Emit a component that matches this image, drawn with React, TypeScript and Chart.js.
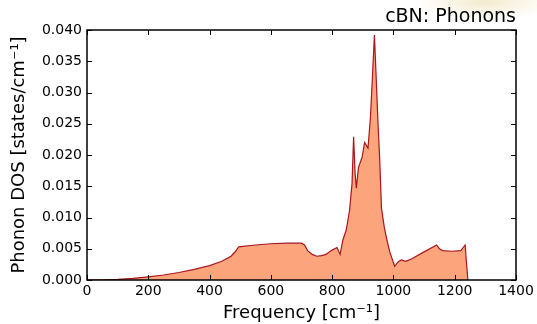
import React, { useEffect, useRef } from 'react';
import { Chart, registerables } from 'chart.js';

Chart.register(...registerables);

const frequencies = [
  0, 50, 100, 150, 200, 250, 300, 350, 400, 440, 470, 485, 495, 550, 600, 650, 700, 710, 720, 735,
  750, 765, 780, 797, 816, 826, 835, 846, 857, 865, 870, 875, 879, 886, 898, 906, 912, 917, 925, 932,
  938, 944, 950, 955, 961, 970, 977, 988, 1004, 1015, 1026, 1040, 1060, 1100, 1141, 1150, 1160, 1190,
  1220, 1234, 1238, 1243,
];
const dos = [
  0, 0.00003, 0.0001, 0.00025, 0.0005, 0.0008, 0.0012, 0.0017, 0.0023, 0.003, 0.0038, 0.0046, 0.0053,
  0.0056, 0.0058, 0.0059, 0.0059, 0.0056, 0.0047, 0.0041, 0.0038, 0.0039, 0.0041, 0.0047, 0.0052,
  0.0041, 0.0064, 0.008, 0.0112, 0.0155, 0.0229, 0.017, 0.0147, 0.018, 0.0197, 0.022, 0.0215, 0.0211,
  0.026, 0.033, 0.0392, 0.032, 0.0248, 0.0195, 0.0115, 0.0085, 0.0068, 0.0045, 0.0022, 0.0029, 0.0032,
  0.003, 0.0034, 0.0045, 0.0056, 0.005, 0.0047, 0.0046, 0.0047, 0.0056, 0.003, 0,
];
const xTickValues = [0, 200, 400, 600, 800, 1000, 1200, 1400];
const yTickValues = [0, 0.005, 0.01, 0.015, 0.02, 0.025, 0.03, 0.035, 0.04];
const titleText = 'cBN: Phonons';
const xLabel = 'Frequency [cm\u207B\u00B9]';
const yLabel = 'Phonon DOS [states/cm\u207B\u00B9]';

const FONT = '"DejaVu Sans", sans-serif';

const framePlugin = {
  id: 'frame',
  afterDraw(chart: any) {
    const { ctx, chartArea: a, scales } = chart;
    ctx.save();
    ctx.strokeStyle = '#000';
    ctx.lineWidth = 1;
    const L = 5;
    const seg = (x1: number, y1: number, x2: number, y2: number) => {
      ctx.beginPath();
      ctx.moveTo(x1, y1);
      ctx.lineTo(x2, y2);
      ctx.stroke();
    };
    xTickValues.forEach((v) => {
      const px = Math.round(scales.x.getPixelForValue(v)) + 0.5;
      seg(px, a.bottom, px, a.bottom - L);
      seg(px, a.top, px, a.top + L);
    });
    yTickValues.forEach((v) => {
      const py = Math.round(scales.y.getPixelForValue(v)) + 0.5;
      seg(a.left, py, a.left + L, py);
      seg(a.right, py, a.right - L, py);
    });
    ctx.lineWidth = 1.5;
    ctx.strokeRect(a.left, a.top, a.right - a.left, a.bottom - a.top);
    ctx.fillStyle = '#000';
    ctx.font = `19px ${FONT}`;
    ctx.textAlign = 'right';
    ctx.textBaseline = 'alphabetic';
    ctx.fillText(titleText, a.right, a.top - 8);
    ctx.restore();
  },
};

export default function App() {
  const ref = useRef<HTMLCanvasElement | null>(null);
  useEffect(() => {
    if (!ref.current) return;
    const chart = new Chart(ref.current, {
      type: 'line',
      data: {
        datasets: [
          {
            data: frequencies.map((f, i) => ({ x: f, y: dos[i] })),
            borderColor: '#a8161e',
            backgroundColor: '#fca47c',
            borderWidth: 1.2,
            fill: 'origin',
            pointRadius: 0,
            tension: 0,
          },
        ],
      },
      options: {
        animation: false,
        responsive: false,
        layout: { padding: { top: 30, right: 21, left: 0, bottom: 0 } },
        plugins: { legend: { display: false }, tooltip: { enabled: false } },
        scales: {
          x: {
            type: 'linear',
            min: 0,
            max: 1400,
            afterBuildTicks: (s: any) => {
              s.ticks = xTickValues.map((v) => ({ value: v }));
            },
            afterFit: (s: any) => {
              s.height = 44;
            },
            ticks: {
              color: '#000',
              font: { family: FONT, size: 14 },
              padding: 3,
              maxRotation: 0,
              callback: (v: any) => String(v),
            },
            grid: { display: false, drawTicks: false },
            border: { display: false },
            title: {
              display: true,
              text: xLabel,
              color: '#000',
              font: { family: FONT, size: 18 },
              padding: { top: 0, bottom: 0 },
            },
          },
          y: {
            type: 'linear',
            min: 0,
            max: 0.04,
            afterBuildTicks: (s: any) => {
              s.ticks = yTickValues.map((v) => ({ value: v }));
            },
            afterFit: (s: any) => {
              s.width = 87;
            },
            ticks: {
              color: '#000',
              font: { family: FONT, size: 14 },
              padding: 5,
              callback: (v: any) => Number(v).toFixed(3),
            },
            grid: { display: false, drawTicks: false },
            border: { display: false },
            title: {
              display: true,
              text: yLabel,
              color: '#000',
              font: { family: FONT, size: 18 },
              padding: { top: 9, bottom: 0 },
            },
          },
        },
      },
      plugins: [framePlugin],
    });
    return () => chart.destroy();
  }, []);
  return (
    <div
      style={{
        position: 'fixed',
        left: 0,
        top: 0,
        width: 537,
        height: 324,
        background:
          'radial-gradient(ellipse 70px 18px at 485px 2px, rgba(240,228,190,0.75), rgba(255,255,255,0))',
      }}
    >
      <canvas ref={ref} width={537} height={324} />
    </div>
  );
}
